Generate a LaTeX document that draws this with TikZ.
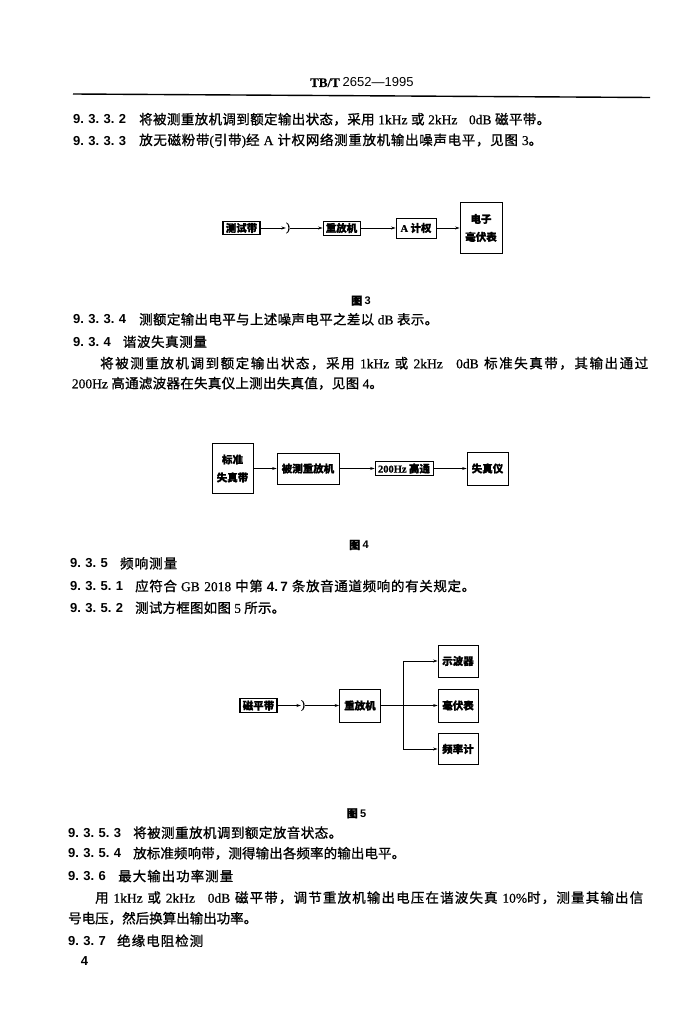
\documentclass[tikz,border=0pt]{standalone}
\usepackage{fontspec}
\setmainfont{Noto Sans CJK SC}[FakeBold=1]
\newfontfamily\latfont{Liberation Serif}[FakeBold=0.5]
\newfontfamily\numfont{Liberation Sans}
\usetikzlibrary{arrows.meta}
\chardef\cjkcls=200
\newcount\cjkcnt
\cjkcnt="3000
\loop \XeTeXcharclass\cjkcnt=\cjkcls \advance\cjkcnt by 1 \ifnum\cjkcnt<"A000 \repeat
\cjkcnt="FF00
\loop \XeTeXcharclass\cjkcnt=\cjkcls \advance\cjkcnt by 1 \ifnum\cjkcnt<"FFF0 \repeat
\XeTeXinterchartokenstate=1
\newcommand\cjkglue{\hskip 0pt plus 1pt\relax}
\XeTeXinterchartoks\cjkcls\cjkcls={\cjkglue}
\newcommand\lt[1]{{\latfont #1}}
\newcommand\nb[1]{{\numfont\bfseries #1}}
\newcommand\bodyfont{\fontsize{13.5}{16}\selectfont}
\newcommand\figfont{\fontsize{10.5}{18}\selectfont\bfseries}
\newcommand\capfont{\fontsize{11}{13}\selectfont\bfseries}
\newcommand\tline[5]{\node[txt] (#1) at (#2,#3) {\makebox[#4pt][s]{#5}};}
\newcommand\sline[5]{\node[lbl] (#1) at (#2,#3) {\makebox[#4pt][s]{#5}};}
\tikzset{
  txt/.style={anchor=west, inner sep=0pt, font=\bodyfont},
  lbl/.style={anchor=west, inner sep=0pt, font=\fontsize{13}{16}\selectfont\numfont\bfseries},
  box/.style={draw, line width=0.9pt, inner sep=0pt, font=\figfont, align=center},
  thickbox/.style={box, line width=1.6pt},
  arr/.style={line width=0.8pt, -{Stealth[length=4.5pt,width=3pt]}},
  head/.style={inner sep=0pt, font=\fontsize{12}{12}\selectfont\latfont},
  figcap/.style={inner sep=0pt, font=\capfont}
}
\begin{document}
\begin{tikzpicture}[x=1pt,y=-1pt]
\useasboundingbox (0,0) rectangle (695,1024);
\fill[white] (0,0) rectangle (695,1024);
% header
\node[anchor=west, inner sep=0pt, font=\fontsize{13}{14}\selectfont] (hdr) at (310,82.5)
  {{\latfont\bfseries TB/T} {\numfont 2652—1995}};
\draw[line width=1.4pt] (73,94) -- (650,97.5);
% 9.3.3.2 / 9.3.3.3
\sline{n1}{73}{119.3}{50}{9. 3. 3. 2}
\tline{t1}{139}{119.3}{411}{将被测重放机调到额定输出状态，采用 \lt{1kHz} 或 \lt{2kHz}\hspace{8pt} \lt{0dB} 磁平带。}
\sline{n2}{73}{140.7}{50}{9. 3. 3. 3}
\tline{t2}{139}{140.7}{403}{放无磁粉带\lt{(}引带\lt{)}经 \lt{A} 计权网络测重放机输出噪声电平，见图 \lt{3}。}
% figure 3
\node[thickbox, minimum width=37pt, minimum height=13pt] (f3a) at (241.5,228) {测试带};
\node[head] (f3h) at (288,228) {)};
\node[box, minimum width=37pt, minimum height=14pt] (f3r) at (341.5,228) {重放机};
\node[box, minimum width=40pt, minimum height=20pt] (f3w) at (416,228) {\lt{A} 计权};
\node[box, minimum width=42pt, minimum height=51pt] (f3e) at (481,228) {电子\\毫伏表};
\draw[arr] (f3a) -- (f3h);
\draw[arr] (f3h) -- (f3r);
\draw[arr] (f3r) -- (f3w);
\draw[arr] (f3w) -- (f3e);
\node[figcap] (c3) at (361,300.7) {图 \nb{3}};
% 9.3.3.4 / 9.3.4
\sline{n3}{73}{319.3}{50}{9. 3. 3. 4}
\tline{t3}{139}{319.3}{299}{测额定输出电平与上述噪声电平之差以 \lt{dB} 表示。}
\sline{n4}{73}{341.7}{34}{9. 3. 4}
\tline{t4}{122.7}{341.7}{84}{谐波失真测量}
\tline{t5}{100}{363.3}{548}{将被测重放机调到额定输出状态，采用 \lt{1kHz} 或 \lt{2kHz}\hspace{8pt} \lt{0dB} 标准失真带，其输出通过}
\tline{t6}{71.7}{383.3}{311}{\lt{200Hz} 高通滤波器在失真仪上测出失真值，见图 \lt{4}。}
% figure 4
\node[box, minimum width=41pt, minimum height=50pt] (f4a) at (232.5,468.5) {标准\\失真带};
\node[box, minimum width=62pt, minimum height=31pt] (f4b) at (308,468.5) {被测重放机};
\node[box, minimum width=58pt, minimum height=14pt] (f4c) at (404,468.5) {\lt{200Hz} 高通};
\node[box, minimum width=41pt, minimum height=33pt] (f4d) at (487.5,468.5) {失真仪};
\draw[arr] (f4a) -- (f4b);
\draw[arr] (f4b) -- (f4c);
\draw[arr] (f4c) -- (f4d);
\node[figcap] (c4) at (359,545) {图 \nb{4}};
% 9.3.5
\sline{n7}{70}{563.3}{35}{9. 3. 5}
\tline{t7}{120}{563.3}{57}{频响测量}
\sline{n8}{70}{586}{48}{9. 3. 5. 1}
\tline{t8}{135}{586}{340}{应符合 \lt{GB 2018} 中第 \nb{4.\,7} 条放音通道频响的有关规定。}
\sline{n9}{70}{607.7}{48}{9. 3. 5. 2}
\tline{t9}{135}{607.7}{150}{测试方框图如图 \lt{5} 所示。}
% figure 5
\node[thickbox, minimum width=37pt, minimum height=14pt] (f5a) at (258.5,705.5) {磁平带};
\node[head] (f5h) at (303,705.5) {)};
\node[box, minimum width=41pt, minimum height=33pt] (f5b) at (360,705.5) {重放机};
\coordinate (f5s) at (403,705.5);
\node[box, minimum width=40pt, minimum height=32pt] (f5c) at (458,661) {示波器};
\node[box, minimum width=40pt, minimum height=33pt] (f5d) at (458,705.5) {毫伏表};
\node[box, minimum width=40pt, minimum height=31pt] (f5e) at (458,749) {频率计};
\draw[arr] (f5a) -- (f5h);
\draw[arr] (f5h) -- (f5b);
\draw[arr] (f5b) -- (f5d);
\draw[arr] (f5s) |- (f5c);
\draw[arr] (f5s) |- (f5e);
\node[figcap] (c5) at (356.5,813.3) {图 \nb{5}};
% 9.3.5.3 ...
\sline{n10}{68}{832.7}{49}{9. 3. 5. 3}
\tline{t10}{133}{832.7}{209}{将被测重放机调到额定放音状态。}
\sline{n11}{68}{853.3}{49}{9. 3. 5. 4}
\tline{t11}{133}{853.3}{272}{放标准频响带，测得输出各频率的输出电平。}
\sline{n12}{68}{876}{35}{9. 3. 6}
\tline{t12}{118}{876}{115}{最大输出功率测量}
\tline{t13}{95}{897.7}{548}{用 \lt{1kHz} 或 \lt{2kHz}\hspace{8pt} \lt{0dB} 磁平带，调节重放机输出电压在谐波失真 \lt{10\%}时，测量其输出信}
\tline{t14}{68}{918.3}{187}{号电压，然后换算出输出功率。}
\sline{n15}{68}{940.7}{34}{9. 3. 7}
\tline{t15}{117}{940.7}{86}{绝缘电阻检测}
\node[lbl, anchor=center] (pg) at (84.5,960.7) {4};
\end{tikzpicture}
\end{document}
